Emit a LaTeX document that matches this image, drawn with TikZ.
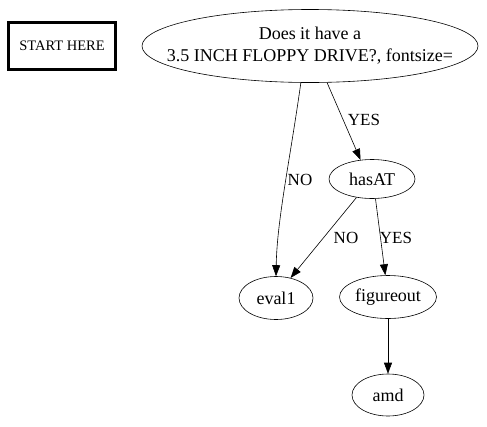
\documentclass[tikz,border=0pt]{standalone}
\usepackage{fontspec}
\setmainfont{Liberation Serif}
\usetikzlibrary{shapes.geometric,arrows.meta}
\begin{document}
\begin{tikzpicture}[x=1pt,y=-1pt,
  every node/.style={font=\fontsize{18}{22}\selectfont},
  ell/.style={draw,ellipse,inner sep=0pt,line width=0.6pt},
  arr/.style={-{Triangle[length=11pt,width=8pt]},line width=0.6pt},
  lab/.style={inner sep=0pt,font=\fontsize{17}{20}\selectfont}]
\useasboundingbox (0,0) rectangle (487,426);
\node[draw,line width=2.4pt,minimum width=107pt,minimum height=47pt,inner sep=0pt,font=\fontsize{14.5}{16}\selectfont] (start) at (62,46) {START HERE};
\node[ell,minimum width=336pt,minimum height=73pt] (q) at (310,46) {};
\node[inner sep=0pt,align=center] (qtext) at (q.center) {Does it have a\\3.5 INCH FLOPPY DRIVE?, fontsize=};
\node[ell,minimum width=86pt,minimum height=39pt] (hasAT) at (372,179) {hasAT};
\node[ell,minimum width=74pt,minimum height=43pt] (eval1) at (276,298) {eval1};
\node[ell,minimum width=97pt,minimum height=43pt] (fig) at (388,297) {figureout};
\node[ell,minimum width=72pt,minimum height=42pt] (amd) at (388,395) {amd};
\draw[arr] (q.-104) .. controls (290,160) and (277,220) .. (eval1.north);
\draw[arr] (q.-65) -- (hasAT.121);
\node[lab] (lno1) at (300,180) {NO};
\node[lab] (lyes1) at (364,120) {YES};
\draw[arr] (hasAT.-130) -- (eval1.54);
\draw[arr] (hasAT.-80) -- (fig.97);
\node[lab] (lno2) at (346,238) {NO};
\node[lab] (lyes2) at (396,238) {YES};
\draw[arr] (fig) -- (amd);
\end{tikzpicture}
\end{document}
